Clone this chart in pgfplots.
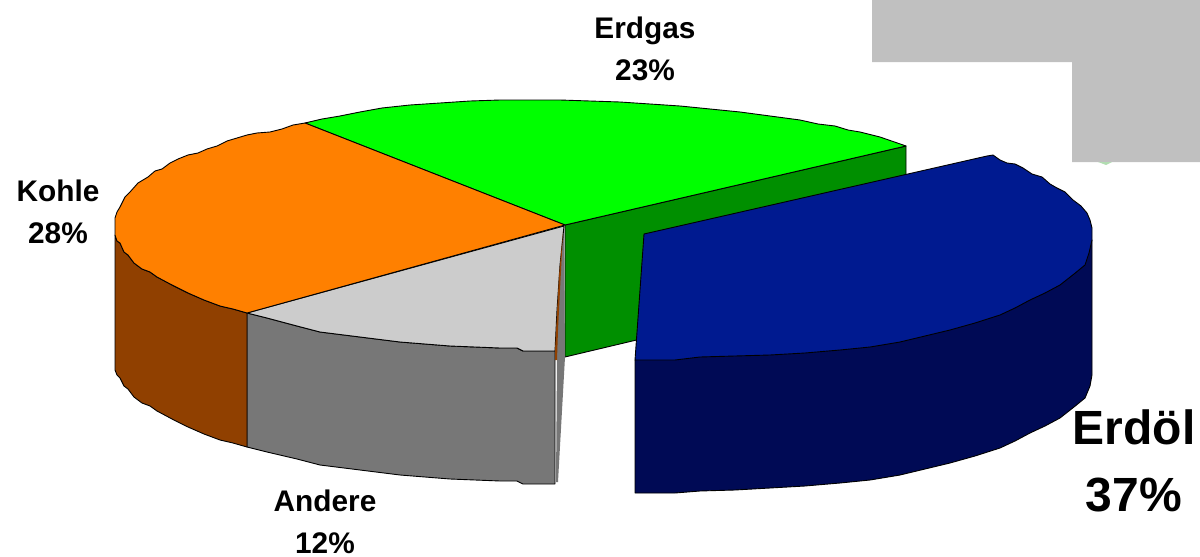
\documentclass[border=0pt]{standalone}
\usepackage{fontspec}
\setmainfont{Liberation Sans}
\usepackage{pgfplots}
\pgfplotsset{compat=1.18}
\definecolor{cgreen}{HTML}{00FF00}
\definecolor{cgreend}{HTML}{008F00}
\definecolor{corange}{HTML}{FF8000}
\definecolor{cbrown}{HTML}{904000}
\definecolor{clight}{HTML}{CCCCCC}
\definecolor{cgray}{HTML}{777777}
\definecolor{cblue}{HTML}{001A90}
\definecolor{cnavy}{HTML}{000A55}
\definecolor{cbox}{HTML}{C0C0C0}
\begin{document}
\begin{tikzpicture}
\useasboundingbox (0,0) rectangle (1200pt,557pt);
\begin{axis}[
  at={(0,0)}, anchor=south west,
  scale only axis, width=1200pt, height=557pt,
  xmin=0, xmax=1200, ymin=0, ymax=557, y dir=reverse,
  hide axis, clip=true,
  every axis plot/.append style={no markers, line width=0.9pt, line join=round}
]
% grey box
\addplot[fill=cbox, draw=none] coordinates {(872,0)(1200,0)(1200,162)(1072,162)(1072,62)(872,62)} --cycle;
% green side
\addplot[fill=cgreend, draw=black] coordinates {(565,225)(906,146)(906,276)(565,357)} --cycle;
% green top
\addplot[fill=cgreen, draw=black] coordinates {(305,123)(322,119)(340,116)(360,112)(382,108)(410,105)(440,103)(470,101)(500,100)(530,100)(560,100)(590,101)(620,102)(650,104)(680,106)(710,109)(740,112)(770,116)(800,120)(818,124)(835,126)(848,130)(860,132)(880,137)(906,146)(565,225)} --cycle;
% thin gray cut face
\addplot[fill=cgray, draw=none] coordinates {(564,226)(565,357)(558,482)(556,482)(557,360)(555,351)(558,300)} --cycle;
% gray front
\addplot[fill=cgray, draw=black] coordinates {(247,313)(267,318)(297,326)(320,332)(360,337)(400,342)(450,346)(500,348)(517,348)(523,351)(555,351)(555,484)(523,484)(517,481)(500,481)(450,479)(400,475)(360,470)(320,465)(297,459)(267,452)(247,447)} --cycle;
% light top
\addplot[fill=clight, draw=black] coordinates {(247,313)(267,318)(297,326)(320,332)(360,337)(400,342)(450,346)(500,348)(517,348)(523,351)(555,351)(557,310)(560,265)(564,226)} --cycle;
% brown sliver
\addplot[fill=cbrown, draw=none] coordinates {(563,232)(559,275)(555,351)(555,360)(557,360)(558,330)(560,290)} --cycle;
% brown side
\addplot[fill=cbrown, draw=black] coordinates {(115,235)(117,241)(120,243)(124,252)(128,255)(134,263)(142,269)(150,272)(157,277)(172,285)(188,293)(204,300)(220,306)(233,309)(247,313)(247,447)(233,443)(220,440)(204,434)(188,427)(172,419)(157,411)(150,406)(142,403)(134,397)(128,389)(124,386)(120,378)(117,375)(115,370)} --cycle;
% orange top
\addplot[fill=corange, draw=black] coordinates {(247,313)(233,309)(220,306)(204,300)(188,293)(172,285)(157,277)(150,272)(142,269)(134,263)(128,255)(124,252)(120,243)(117,241)(115,235)(115,218)(117,212)(120,207)(125,197)(130,192)(138,183)(148,177)(155,171)(162,169)(170,163)(178,159)(188,155)(198,153)(207,149)(217,146)(227,141)(237,138)(247,135)(257,133)(270,132)(282,129)(293,125)(305,123)(565,225)} --cycle;
% navy side
\addplot[fill=cnavy, draw=black] coordinates {(635,360)(1092,240)(1092,375)(1090,386)(1085,398)(1074,407)(1060,418)(1045,426)(1030,433)(1015,441)(1000,448)(975,456)(950,463)(925,469)(900,475)(870,480)(840,483)(805,486)(770,488)(735,490)(700,491)(675,493)(635,493)} --cycle;
% blue top
\addplot[fill=cblue, draw=black] coordinates {(644,234)(987,156)(993,155)(1000,160)(1007,163)(1015,164)(1023,168)(1032,174)(1042,177)(1050,184)(1057,188)(1065,192)(1073,200)(1081,206)(1087,213)(1090,220)(1092,228)(1092,240)(1089,253)(1085,265)(1074,274)(1060,285)(1045,293)(1030,300)(1015,308)(1000,315)(975,323)(950,330)(925,336)(900,342)(870,347)(840,350)(805,353)(770,355)(735,356)(700,357)(675,360)(635,360)} --cycle;
% small smudge under the box
\addplot[fill=cgreend!30!white, draw=none] coordinates {(1098,162)(1112,162)(1106,165)} --cycle;
% labels
\node[anchor=base, font=\bfseries\fontsize{29.8}{32}\selectfont] at (axis cs:645,38) {Erdgas};
\node[anchor=base, font=\bfseries\fontsize{29.8}{32}\selectfont] at (axis cs:645,80) {23\%};
\node[anchor=base, font=\bfseries\fontsize{29.8}{32}\selectfont] at (axis cs:58,201) {Kohle};
\node[anchor=base, font=\bfseries\fontsize{29.8}{32}\selectfont] at (axis cs:58,243) {28\%};
\node[anchor=base, font=\bfseries\fontsize{29.8}{32}\selectfont] at (axis cs:325,511) {Andere};
\node[anchor=base, font=\bfseries\fontsize{29.8}{32}\selectfont] at (axis cs:325,553) {12\%};
\node[anchor=base, font=\bfseries\fontsize{48}{50}\selectfont] at (axis cs:1134,444) {Erdöl};
\node[anchor=base, font=\bfseries\fontsize{48}{50}\selectfont] at (axis cs:1134,511) {37\%};
\end{axis}
\end{tikzpicture}
\end{document}
